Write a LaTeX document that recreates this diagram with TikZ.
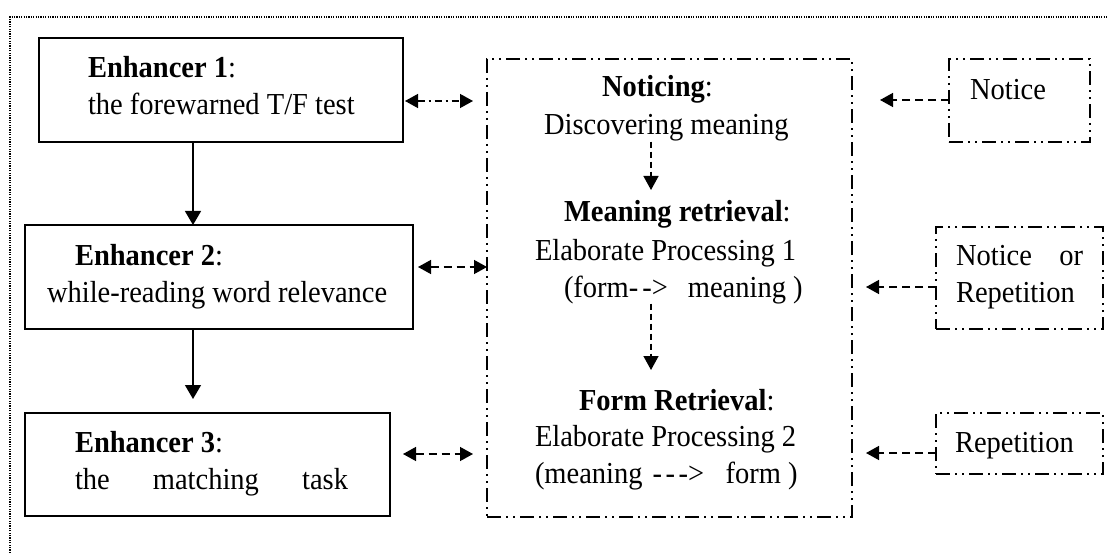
\documentclass[tikz,border=0pt]{standalone}
\usepackage{fontspec}
\setmainfont{Liberation Serif}
\usetikzlibrary{arrows.meta}
\newcommand\hy{\mbox{-}}
\newcommand\vt[1]{\scalebox{1}[1.07]{#1}}
\tikzset{
  sbox/.style={draw, line width=1.6pt, inner sep=0pt, outer sep=0pt},
  dbox/.style={draw, line width=1.4pt, inner sep=0pt, outer sep=0pt,
    dash pattern=on 14pt off 5pt on 2pt off 5pt on 2pt off 5pt},
  txt/.style={anchor=base west, inner sep=0pt, outer sep=0pt, font=\fontsize{28.5pt}{37pt}\selectfont},
  solidarr/.style={line width=1.4pt, -{Triangle[length=14pt,width=16pt]}},
  dasharr/.style={line width=1.4pt, dash pattern=on 8pt off 5pt, -{Triangle[length=13pt,width=14pt]}},
  dashdbl/.style={line width=1.4pt, dash pattern=on 8pt off 5pt, {Triangle[length=13pt,width=14pt]}-{Triangle[length=13pt,width=14pt]}},
  dotdbl/.style={line width=1.4pt, dash pattern=on 7pt off 4pt on 2pt off 4pt, {Triangle[length=13pt,width=14pt]}-{Triangle[length=13pt,width=14pt]}},
  innerarr/.style={line width=1.4pt, dash pattern=on 6pt off 4pt, -{Triangle[length=14pt,width=15pt]}},
}
\begin{document}
\begin{tikzpicture}[x=1pt,y=-1pt]
\useasboundingbox (0,0) rectangle (1107,553);
% outer dotted frame
\draw[line width=1.5pt, dash pattern=on 1.2pt off 1.2pt] (10,553) -- (10,17) -- (1107,17);

% boxes
\node[sbox, minimum width=364pt, minimum height=104pt] (e1) at (221,90) {};
\node[sbox, minimum width=388pt, minimum height=104pt] (e2) at (219,277) {};
\node[sbox, minimum width=365pt, minimum height=103pt] (e3) at (207.5,464.5) {};
\node[dbox, minimum width=365pt, minimum height=458pt] (mid) at (669.5,288) {};
\node[dbox, minimum width=141pt, minimum height=83pt] (n1) at (1019.5,100.5) {};
\node[dbox, minimum width=167pt, minimum height=102pt] (n2) at (1019.5,278) {};
\node[dbox, minimum width=167pt, minimum height=61pt] (n3) at (1019.5,443.5) {};

% texts
\node[txt] (e1t) at (88,78) {\vt{\textbf{Enhancer 1}:}};
\node[txt] (e1s) at (88,115) {\vt{the forewarned T/F test}};
\node[txt] (e2t) at (75,265) {\vt{\textbf{Enhancer 2}:}};
\node[txt] (e2s) at (47,302) {\vt{while\hy reading word relevance}};
\node[txt] (e3t) at (75,452) {\vt{\textbf{Enhancer 3}:}};
\node[txt] (e3s) at (75,489) {\vt{\makebox[273pt][s]{the matching task}}};

\node[txt] (not) at (602,97) {\vt{\textbf{Noticing}:}};
\node[txt] (disc) at (544,135) {\vt{Discovering meaning}};
\node[txt] (mr) at (564,222) {\vt{\textbf{Meaning retrieval}:}};
\node[txt] (ep1) at (535,260) {\vt{Elaborate Processing 1}};
\node[txt] (fm) at (564,297) {\vt{(form\hy\hspace{4pt}\hy>\hspace{0.7em}meaning )}};
\node[txt] (fr) at (579,410) {\vt{\textbf{Form Retrieval}:}};
\node[txt] (ep2) at (535,446) {\vt{Elaborate Processing 2}};
\node[txt] (mf) at (535,483) {\vt{(meaning\hspace{10pt}\hy\hspace{3.5pt}\hy\hspace{3.5pt}\hy>\hspace{0.75em}form )}};

\node[txt] (n1t) at (970,100) {\vt{Notice}};
\node[txt] (n2t) at (956,265) {\vt{\makebox[127pt][s]{Notice or}}};
\node[txt] (n2s) at (956,302) {\vt{Repetition}};
\node[txt] (n3t) at (955,452) {\vt{Repetition}};

% solid arrows
\draw[solidarr] ([xshift=-28pt]e1.south) -- ([xshift=-26pt]e2.north);
\draw[solidarr, shorten >=14pt] ([xshift=-26pt]e2.south) -- ([xshift=-14.5pt]e3.north);

% double arrows
\draw[dotdbl, shorten <=2pt, shorten >=14pt] ([yshift=-11pt]e1.east) -- ([yshift=-11pt]e1.east -| mid.west);
\draw[dashdbl, shorten <=5pt] ([yshift=10pt]e2.east) -- ([yshift=10pt]e2.east -| mid.west);
\draw[dashdbl, shorten <=13pt, shorten >=14pt] ([yshift=10.5pt]e3.east) -- ([yshift=10.5pt]e3.east -| mid.west);

% right arrows
\draw[dasharr, shorten >=28pt] ([yshift=0.5pt]n1.west) -- ([yshift=0.5pt]n1.west -| mid.east);
\draw[dasharr, shorten >=14pt] ([yshift=-9pt]n2.west) -- ([yshift=-9pt]n2.west -| mid.east);
\draw[dasharr, shorten >=14pt] ([yshift=-9.5pt]n3.west) -- ([yshift=-9.5pt]n3.west -| mid.east);

% inner arrows
\coordinate (a1) at (651,190);
\coordinate (a2) at (651,370);
\draw[innerarr] (disc.south -| a1) -- (a1);
\draw[innerarr] (fm.south -| a2) -- (a2);
\end{tikzpicture}
\end{document}
